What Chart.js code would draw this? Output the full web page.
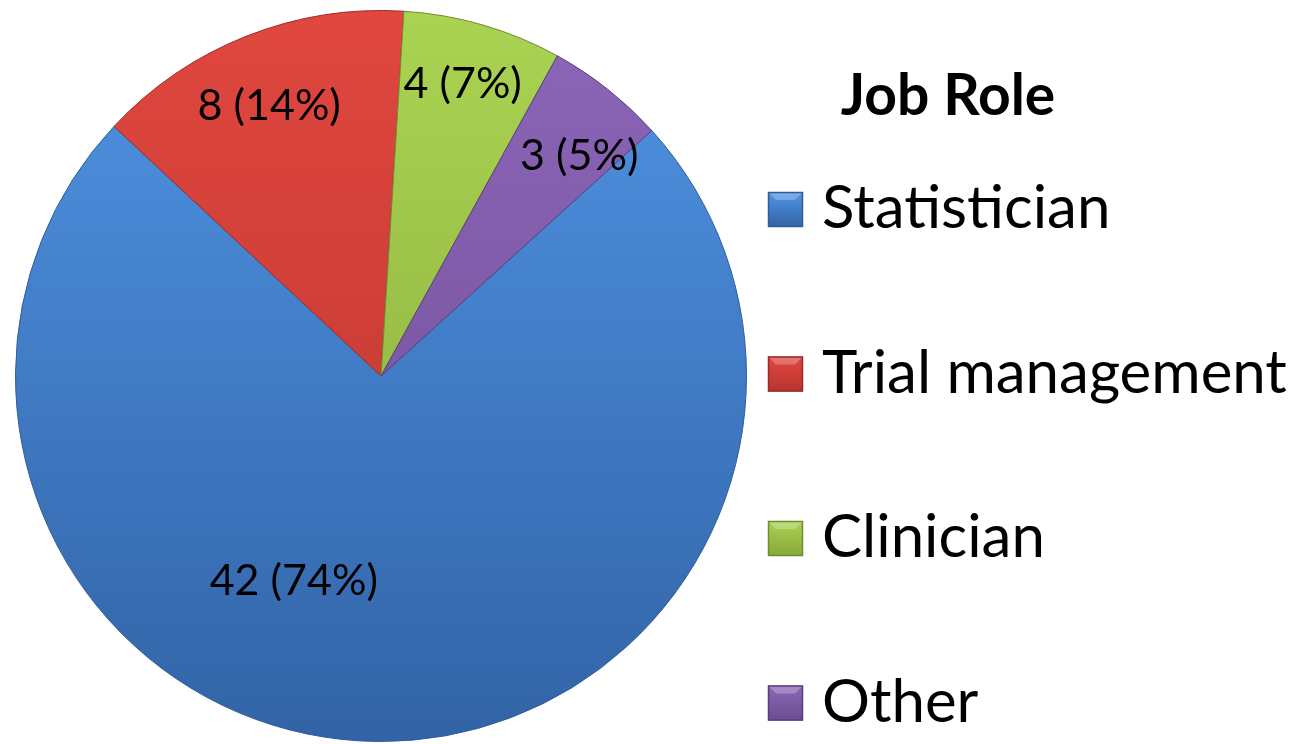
<!DOCTYPE html>
<html>
<head>
<meta charset="utf-8">
<script src="https://cdn.jsdelivr.net/npm/chart.js@4.4.0/dist/chart.umd.min.js"></script>
<style>
  html, body { margin: 0; padding: 0; background: #fff; }
  #wrap { width: 1309px; height: 744px; }
</style>
</head>
<body>
<div id="wrap"><canvas id="chartJobRole" width="1309" height="744"></canvas></div>
<script>
// data
const roles = ['Statistician', 'Trial management', 'Clinician', 'Other'];
const counts = [42, 8, 4, 3];
const legendTitle = 'Job Role';

// slice colours: light (top) -> dark (bottom)
const topColors = ['#5094e4', '#e0473f', '#aad352', '#8c66b8'];
const bottomColors = ['#3263a6', '#b8342e', '#86a83a', '#6c4c92'];
const edgeColors = ['#2f5d99', '#9c2b26', '#6f8c2e', '#5a3e7c'];

// where Excel put each data label: angle shift (deg) and fraction of radius
const labelShift = [22.6, -0.8, -0.6, 3.7];
const labelRadius = [0.61, 0.80, 0.83, 0.81];

const FONT = 'Lato, "Open Sans", sans-serif';
const total = counts.reduce((a, b) => a + b, 0);

const sliceFill = (c) => {
  const chart = c.chart;
  const area = chart.chartArea;
  const i = c.dataIndex;
  if (!area) return topColors[i];
  const g = chart.ctx.createLinearGradient(0, area.top, 0, area.bottom);
  g.addColorStop(0, topColors[i]);
  g.addColorStop(1, bottomColors[i]);
  return g;
};

const dataLabels = {
  id: 'dataLabels',
  afterDatasetsDraw(chart) {
    const ctx = chart.ctx;
    const meta = chart.getDatasetMeta(0);
    ctx.save();
    ctx.fillStyle = '#000';
    ctx.font = '43px ' + FONT;
    ctx.textAlign = 'center';
    ctx.textBaseline = 'middle';
    meta.data.forEach((arc, i) => {
      const p = arc.getProps(['x', 'y', 'startAngle', 'endAngle', 'outerRadius']);
      const a = (p.startAngle + p.endAngle) / 2 + labelShift[i] * Math.PI / 180;
      const r = p.outerRadius * labelRadius[i];
      const pct = Math.round(counts[i] / total * 100);
      ctx.fillText(counts[i] + ' (' + pct + '%)', p.x + Math.cos(a) * r, p.y + Math.sin(a) * r);
    });
    ctx.restore();
  }
};

const sideLegend = {
  id: 'sideLegend',
  afterDraw(chart) {
    const ctx = chart.ctx;
    ctx.save();
    ctx.fillStyle = '#000';
    ctx.textAlign = 'center';
    ctx.textBaseline = 'alphabetic';
    ctx.font = 'bold 57px ' + FONT;
    ctx.fillText(legendTitle, 948, 115);

    const boxX = 768, boxSize = 35, textX = 822;
    const firstTop = 192, step = 164.5;
    roles.forEach((name, i) => {
      const y = firstTop + i * step;
      const g = ctx.createLinearGradient(0, y, 0, y + boxSize);
      g.addColorStop(0, topColors[i]);
      g.addColorStop(1, bottomColors[i]);
      ctx.fillStyle = g;
      ctx.fillRect(boxX, y, boxSize, boxSize);
      // bevel highlight
      ctx.fillStyle = 'rgba(255,255,255,0.25)';
      ctx.beginPath();
      ctx.moveTo(boxX, y);
      ctx.lineTo(boxX + boxSize, y);
      ctx.lineTo(boxX + boxSize - 8, y + 8);
      ctx.lineTo(boxX + 8, y + 8);
      ctx.closePath();
      ctx.fill();
      ctx.strokeStyle = edgeColors[i];
      ctx.lineWidth = 1.5;
      ctx.strokeRect(boxX + 0.5, y + 0.5, boxSize - 1, boxSize - 1);

      ctx.fillStyle = '#000';
      ctx.textAlign = 'left';
      ctx.font = '60px ' + FONT;
      ctx.fillText(name, textX, y + boxSize + 1);
    });
    ctx.restore();
  }
};

new Chart(document.getElementById('chartJobRole').getContext('2d'), {
  type: 'pie',
  data: {
    labels: roles,
    datasets: [{
      data: counts,
      backgroundColor: sliceFill,
      borderColor: (c) => edgeColors[c.dataIndex],
      borderWidth: 1
    }]
  },
  options: {
    responsive: false,
    animation: false,
    rotation: 47.8,
    layout: { padding: { left: 15, top: 10, right: 562, bottom: 2 } },
    plugins: {
      legend: { display: false },
      tooltip: { enabled: false }
    }
  },
  plugins: [dataLabels, sideLegend]
});
</script>
</body>
</html>
